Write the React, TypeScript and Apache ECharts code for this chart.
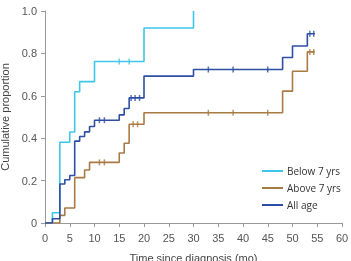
import React, { useEffect, useRef } from "react";
import * as echarts from "echarts";

const belowSteps: [number, number][] = [
  [0, 0], [1.5, 0.048], [3, 0.381], [5, 0.429], [6, 0.619], [7, 0.667], [10, 0.762], [20, 0.92], [30, 1.0],
];
const aboveSteps: [number, number][] = [
  [0, 0], [3, 0.036], [4, 0.071], [6, 0.214], [8, 0.25], [9, 0.286], [15, 0.33], [16, 0.376], [17, 0.466],
  [20, 0.52], [48, 0.622], [50, 0.716], [53, 0.807], [54.5, 0.807],
];
const allSteps: [number, number][] = [
  [0, 0], [1.5, 0.02], [3, 0.184], [4, 0.204], [5, 0.224], [6, 0.386], [7, 0.408], [8, 0.43], [9, 0.455],
  [10, 0.485], [15, 0.51], [16, 0.54], [17, 0.59], [20, 0.693], [30, 0.724], [48, 0.781], [50, 0.835],
  [53, 0.893], [54.5, 0.893],
];
const belowCensor: [number, number][] = [[15, 0.762], [17, 0.762]];
const aboveCensor: [number, number][] = [
  [11, 0.286], [12, 0.286], [17.8, 0.466], [18.7, 0.466], [33, 0.52], [38, 0.52], [45, 0.52], [53.5, 0.807], [54.3, 0.807],
];
const allCensor: [number, number][] = [
  [11, 0.485], [12, 0.485], [17.4, 0.59], [18.2, 0.59], [19.1, 0.59], [33, 0.724], [38, 0.724], [45, 0.724],
  [53.5, 0.893], [54.3, 0.893],
];
const seriesNames = ["Below 7 yrs", "Above 7 yrs", "All age"];
const colors = ["#3ec6ea", "#a97a44", "#2d4ea3"];

export default function App() {
  const ref = useRef<HTMLDivElement>(null);
  useEffect(() => {
    if (!ref.current) return;
    const chart = echarts.init(ref.current, null, { renderer: "svg" });
    const axisFont = "Liberation Sans, Arial, sans-serif";
    const legendFont = "Open Sans, sans-serif";
    const steps = [belowSteps, aboveSteps, allSteps];
    const censors = [belowCensor, aboveCensor, allCensor];
    const lineSeries = seriesNames.map((name, i) => ({
      name,
      type: "line",
      step: "end",
      data: steps[i],
      symbol: "none",
      lineStyle: { color: colors[i], width: 1.6 },
      itemStyle: { color: colors[i] },
      z: 2,
    }));
    const censorSeries = seriesNames.map((name, i) => ({
      name: name + " censored",
      type: "scatter",
      data: censors[i],
      symbol: "rect",
      symbolSize: [1.5, 6],
      itemStyle: { color: colors[i] },
      z: 3,
    }));
    chart.setOption({
      animation: false,
      grid: { left: 45, right: 9, top: 11, bottom: 38, outerBoundsMode: "none", containLabel: false },
      legend: {
        data: seriesNames.map((n, i) => ({ name: n, itemStyle: { color: colors[i] } })),
        orient: "vertical",
        left: 262,
        top: 164,
        padding: 0,
        itemWidth: 21,
        itemHeight: 2,
        icon: "rect",
        itemGap: 3,
        textStyle: { fontFamily: legendFont, fontSize: 10, color: "#333", padding: [0, 0, 0, -1], lineHeight: 14 },
      },
      xAxis: {
        type: "value",
        min: 0,
        max: 60,
        interval: 5,
        name: "Time since diagnosis (mo)",
        nameLocation: "middle",
        nameGap: 29,
        nameTextStyle: { fontFamily: axisFont, fontSize: 11, color: "#444" },
        axisLine: { lineStyle: { color: "#999" } },
        axisTick: { length: 4, lineStyle: { color: "#999" } },
        axisLabel: { fontFamily: axisFont, fontSize: 11, color: "#555", margin: 9 },
        splitLine: { show: false },
      },
      yAxis: {
        type: "value",
        min: 0,
        max: 1,
        interval: 0.2,
        name: "Cumulative proportion",
        nameLocation: "middle",
        nameGap: 35,
        nameTextStyle: { fontFamily: axisFont, fontSize: 11, color: "#444" },
        axisLine: { show: true, lineStyle: { color: "#999" } },
        axisTick: { show: true, length: 4, lineStyle: { color: "#999" } },
        axisLabel: {
          fontFamily: axisFont,
          fontSize: 11,
          color: "#555",
          margin: 8,
          formatter: (v: number) => (v === 0 ? "0" : v.toFixed(1)),
        },
        splitLine: { show: false },
      },
      series: [...lineSeries, ...censorSeries],
    });
    return () => chart.dispose();
  }, []);
  return <div ref={ref} style={{ position: "fixed", left: 0, top: 0, width: 351, height: 261 }} />;
}
